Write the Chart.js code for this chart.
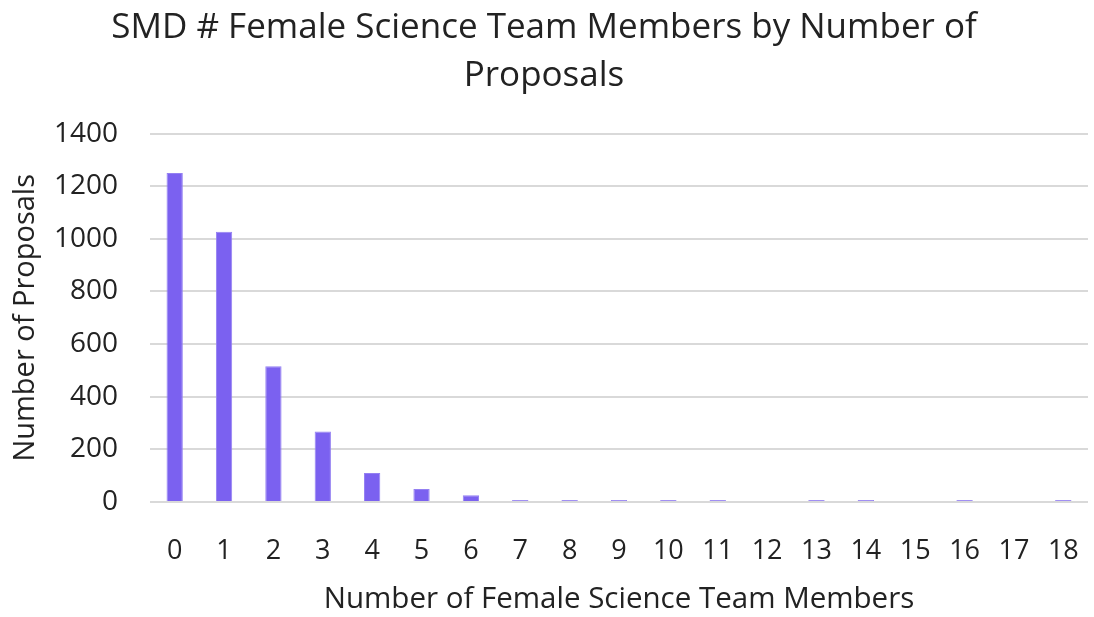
<!DOCTYPE html>
<html>
<head>
<meta charset="utf-8">
<script src="https://cdn.jsdelivr.net/npm/chart.js@4"></script>
<style>
  html, body { margin: 0; padding: 0; background: #fff; }
  #wrap { width: 1094px; height: 617px; }
</style>
</head>
<body>
<div id="wrap"><canvas id="bar-chart"></canvas></div>
<script>
const members = ["0","1","2","3","4","5","6","7","8","9","10","11","12","13","14","15","16","17","18"];
const proposals = [1250, 1027, 516, 268, 110, 49, 26, 8, 8, 8, 8, 8, 0, 8, 8, 0, 8, 0, 8];
const yTicks = [0, 200, 400, 600, 800, 1000, 1200, 1400];

const font = "'Open Sans', 'Noto Sans', sans-serif";

new Chart(document.getElementById("bar-chart"), {
    type: 'bar',
    data: {
      labels: members,
      datasets: [
        {
          label: "Number of Proposals",
          backgroundColor: "#7B61F0",
          borderColor: "#9480F2",
          borderWidth: 1,
          barPercentage: 0.33,
          categoryPercentage: 1,
          data: proposals
        }
      ]
    },
    options: {
      responsive: true,
      maintainAspectRatio: false,
      animation: false,
      layout: { padding: { left: 0, right: 6, top: 4, bottom: 0 } },
      plugins: {
        legend: { display: false },
        tooltip: { enabled: false },
        title: {
          display: true,
          text: ['SMD # Female Science Team Members by Number of', 'Proposals'],
          color: '#222',
          font: { family: font, size: 35, weight: 'normal', lineHeight: 1.38 },
          padding: { top: 0, bottom: 33 }
        }
      },
      scales: {
        x: {
          afterFit: axis => { axis.height = 115; axis.paddingLeft = 0; axis.paddingRight = 0; },
          grid: { display: false, drawTicks: false },
          border: { display: false },
          ticks: { color: '#222', font: { family: font, size: 27 }, padding: 33, maxRotation: 0 },
          title: { display: true, text: 'Number of Female Science Team Members', color: '#222',
                   font: { family: font, size: 29.5 }, padding: { top: 0, bottom: 0 } }
        },
        y: {
          min: 0,
          max: 1400,
          afterFit: axis => { axis.width = 150; },
          afterBuildTicks: axis => { axis.ticks = yTicks.map(v => ({ value: v })); },
          grid: { color: '#d9d9d9', lineWidth: 2, drawTicks: false },
          border: { display: false },
          ticks: { color: '#222', font: { family: font, size: 28 }, padding: 32,
                   callback: v => String(v) },
          title: { display: true, text: 'Number of Proposals', color: '#222',
                   font: { family: font, size: 29 }, padding: { top: 8, bottom: 0 } }
        }
      }
    }
});
</script>
</body>
</html>
